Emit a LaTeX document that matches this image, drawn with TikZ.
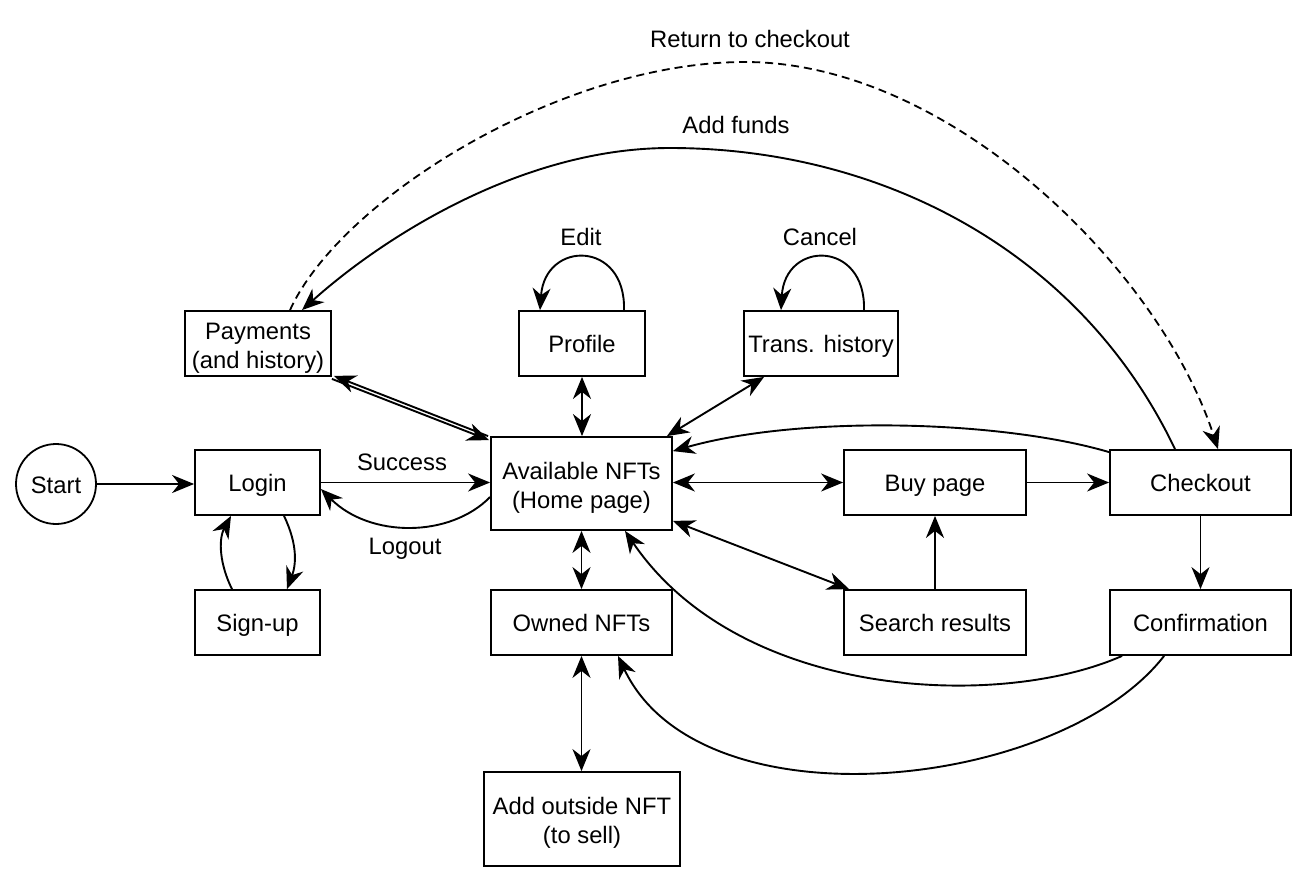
\documentclass[tikz,border=0pt]{standalone}
\usepackage{fontspec}
\setmainfont{Liberation Sans}
\usetikzlibrary{arrows.meta,calc}
\newcommand{\tstrut}{\rule{0pt}{12.6pt}}
\begin{document}
\begin{tikzpicture}[x=0.5pt,y=-0.5pt,
  font=\fontsize{11.9}{14.5}\selectfont,
  >={Stealth[length=11pt,width=9pt,inset=3.5pt]},
  box/.style={draw, line width=0.9pt, align=center, inner sep=0pt, minimum height=32.5pt},
  one/.style={text height=11pt, text depth=2pt},
  conn/.style={line width=0.95pt},
  dashconn/.style={line width=0.9pt, dash pattern=on 4pt off 2.5pt},
  lbl/.style={inner sep=1pt}
]
\useasboundingbox (0,0) rectangle (1308,884);

% nodes
\node[draw,circle,line width=0.9pt,minimum size=40pt,inner sep=0pt,one] (start) at (56,484) {Start};
\node[box,one,minimum width=62.5pt] (login) at (257.5,482.5) {Login};
\node[box,one,minimum width=62.5pt] (signup) at (257.5,622.5) {Sign-up};
\node[box,minimum width=73pt] (pay) at (258,343.5) {\tstrut Payments\\(and history)};
\node[box,one,minimum width=63pt] (prof) at (582,343.5) {Profile};
\node[box,one,minimum width=77pt] (trans) at (821,343.5) {Trans. history};
\node[box,minimum width=90.5pt,minimum height=46.5pt] (avail) at (581.5,483.5) {\tstrut Available NFTs\\(Home page)};
\node[box,one,minimum width=91pt] (buy) at (935,482.5) {Buy page};
\node[box,one,minimum width=90.5pt] (check) at (1200.5,482.5) {Checkout};
\node[box,one,minimum width=90.5pt] (owned) at (581.5,622.5) {Owned NFTs};
\node[box,one,minimum width=91pt] (search) at (935,622.5) {Search results};
\node[box,one,minimum width=90.5pt] (conf) at (1200.5,622.5) {Confirmation};
\node[box,minimum width=98pt,minimum height=47pt] (addout) at (582,819) {\tstrut Add outside NFT\\(to sell)};

% labels
\node[lbl,one] (lret) at (750,38) {Return to checkout};
\node[lbl,one] (lfunds) at (736,124) {Add funds};
\node[lbl,one] (ledit) at (581,236) {Edit};
\node[lbl,one] (lcancel) at (820,236) {Cancel};
\node[lbl,one] (lsucc) at (402,461) {Success};
\node[lbl,one] (llogout) at (405,545) {Logout};

% connectors
\draw[conn,->] (start) -- (start -| login.west);
\draw[conn,->] (login.east) -- (login.east -| avail.west);
\draw[conn,->] ([yshift=-6.75pt]avail.west) .. controls (450,538) and (370,538) .. ([yshift=-3.25pt]login.east);
\draw[conn,->] ([xshift=13.25pt]login.south) .. controls (298,545) and (296,565) .. ([xshift=14.75pt]signup.north);
\draw[conn,->] ([xshift=-12.75pt]signup.north) .. controls (220,565) and (218,540) .. ([xshift=-13.25pt]login.south);

\draw[conn,<-] ([shift={(1pt,0.5pt)}]pay.south east) -- ([shift={(-1pt,0pt)}]avail.north west);
\draw[conn,->] ([shift={(0pt,-1pt)}]pay.south east) -- ([shift={(-0.5pt,-2pt)}]avail.north west);

\draw[conn,<->] (prof.south) -- (prof.south |- avail.north);
\draw[conn,<->] ([xshift=10.5pt]trans.south west) -- ([xshift=-3pt]avail.north east);
\draw[conn,->] ([xshift=21pt]prof.north) .. controls (626,240) and (545,240) .. ([xshift=-21pt]prof.north);
\draw[conn,->] ([xshift=21.5pt]trans.north) .. controls (866,240) and (785,240) .. ([xshift=-20pt]trans.north);

\draw[conn,<->] (avail.east |- buy.west) -- (buy.west);
\draw[conn,->] (buy) -- (check);
\draw[conn,->] ([yshift=-1.5pt]check.north west) .. controls (1000,420) and (800,415) .. ([yshift=-7.5pt]avail.north east);
\draw[conn,<->] ([yshift=5pt]avail.south east) -- ([xshift=3pt]search.north west);
\draw[conn,->] (search) -- (buy);
\draw[conn,->] (check) -- (conf);
\draw[conn,<->] (avail.south) -- (owned.north);
\draw[conn,<->] (owned.south) -- (owned.south |- addout.north);
\draw[conn,->] ([xshift=6.5pt]conf.south west) .. controls (1000,710) and (740,700) .. ([xshift=21.75pt]avail.south);
\draw[conn,->] ([xshift=27.5pt]conf.south west) .. controls (1060,790) and (700,830) .. ([xshift=18.25pt]owned.south);

\draw[conn,->] ([xshift=-12.75pt]check.north) .. controls (1080,250) and (880,148) .. (670,148) .. controls (520,148) and (380,240) .. ([xshift=22pt]pay.north);
\draw[dashconn,->] ([xshift=16pt]pay.north) .. controls (340,200) and (560,62) .. (745,62) .. controls (950,62) and (1160,270) .. ([xshift=8.75pt]check.north);
\end{tikzpicture}
\end{document}
